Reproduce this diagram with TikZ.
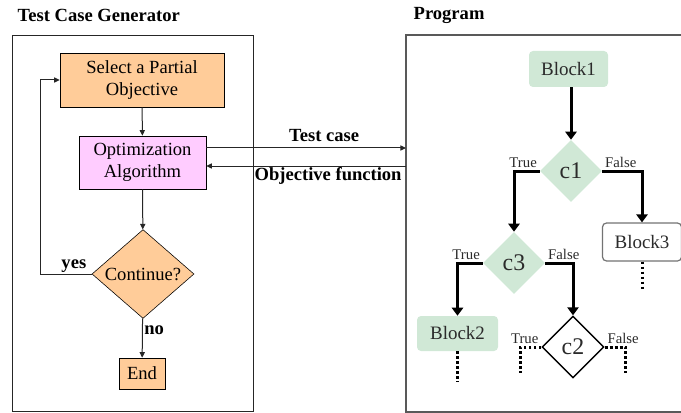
\documentclass[tikz,border=0pt]{standalone}
\usepackage{fontspec}
\setmainfont{Liberation Serif}
\usepackage{tikz}
\usetikzlibrary{positioning,shapes.geometric,arrows.meta}
\definecolor{objorange}{HTML}{FFCC99}
\definecolor{algpink}{HTML}{FFCCFF}
\definecolor{blockgreen}{HTML}{D0E8D6}
\definecolor{progtext}{HTML}{2B2B2B}

\begin{document}
\begin{tikzpicture}[x=0.25mm,y=-0.25mm,
    genbox/.style={draw,inner sep=0pt,align=center,font=\fontsize{13.2}{15.6}\selectfont},
    gendiamond/.style={draw,diamond,inner sep=0pt,fill=objorange,font=\fontsize{13.2}{15.6}\selectfont},
    boldlabel/.style={inner sep=1pt,font=\fontsize{13.2}{15.6}\selectfont\bfseries},
    thinflow/.style={draw=black!85,line width=0.25mm,-{Triangle[length=1.4mm,width=1.3mm]}},
    progblock/.style={rounded corners=1mm,inner sep=0pt,text=progtext,font=\fontsize{13.5}{16}\selectfont},
    progcond/.style={diamond,inner sep=0pt,minimum width=15.5mm,minimum height=15.5mm,text=progtext,font=\fontsize{17}{20}\selectfont},
    branch/.style={inner sep=1pt,text=progtext,font=\fontsize{10.5}{12}\selectfont},
    thickflow/.style={line width=0.75mm,-{Triangle[length=2mm,width=2.8mm]}},
    dotflow/.style={line width=0.75mm,dash pattern=on 0.7mm off 0.55mm}]
  \useasboundingbox (0,0) rectangle (681,413);
  \node[boldlabel,anchor=west] (gentitle) at (16,15) {Test Case Generator};
  \node[boldlabel,anchor=west] (progtitle) at (412,15) {Program};
  \draw[black!85,line width=0.25mm] (12,36) rectangle (253,411);
  \draw[black!65,line width=0.3mm] (681,35) -- (406,35) -- (406,412) -- (681,412);

  \node[genbox,fill=objorange,minimum width=41mm,minimum height=13.5mm] (select) at (142,80) {Select a Partial\\Objective};
  \node[genbox,fill=algpink,minimum width=31.75mm,minimum height=13.25mm] (opt) at (142.5,162.5) {Optimization\\Algorithm};
  \node[gendiamond,minimum width=25.5mm,minimum height=17.5mm] (cont) at (143,274) {Continue?};
  \node[genbox,fill=objorange,minimum width=11.5mm,minimum height=7.75mm] (fin) at (142,373.5) {End};

  \draw[thinflow] (select) -- (opt);
  \draw[thinflow] (opt) -- (cont);
  \draw[thinflow] (cont) -- node[boldlabel,right,pos=0.3] (nolab) {no} (fin);
  \draw[thinflow] (cont.west) -- node[boldlabel,above,pos=0.35] (yeslab) {yes} ++(-51,0) |- (select.west);

  \coordinate (tcin) at (406,148);
  \coordinate (ofout) at (406,166);
  \draw[thinflow] (opt.east |- tcin) -- node[boldlabel,above=1mm,pos=0.59] (tclab) {Test case} (tcin);
  \draw[thinflow] (ofout) -- node[boldlabel,below,pos=0.39] (oflab) {Objective function} (opt.east |- ofout);

  \node[progblock,fill=blockgreen,minimum width=19.75mm,minimum height=9mm] (block1) at (568.5,69) {Block1};
  \node[progcond,fill=blockgreen] (c1) at (571,171) {c1};
  \node[progcond,fill=blockgreen] (c3) at (514,263) {c3};
  \node[progblock,draw=black!55,line width=0.3mm,fill=white,minimum width=19.75mm,minimum height=9.5mm] (block3) at (642,242) {Block3};
  \node[progblock,fill=blockgreen,minimum width=20.25mm,minimum height=8.75mm] (block2) at (457.5,333.5) {Block2};
  \node[progcond,draw=black,line width=0.35mm,fill=white] (c2) at (573,347) {c2};

  \draw[thickflow] (c1 |- block1.south) -- (c1.north);
  \draw[thickflow] (c1.west) -| node[branch,pos=0,anchor=south east] (t1) {True} (c3.north);
  \draw[thickflow] (c1.east) -| node[branch,pos=0,anchor=south west] (f1) {False} (block3.north);
  \draw[thickflow] (c3.west) -| node[branch,pos=0,anchor=south east] (t3) {True} (block2.north);
  \draw[thickflow] (c3.east) -| node[branch,pos=0,anchor=south west] (f3) {False} (c2.north);
  \draw[dotflow] (c2.west) -- node[branch,pos=0,anchor=south east] (t2) {True} ++(-21,0) -- ++(0,26);
  \draw[dotflow] (c2.east) -- node[branch,pos=0,anchor=south west] (f2) {False} ++(21,0) -- ++(0,26);
  \draw[dotflow] (block3.south) -- ++(0,29);
  \draw[dotflow] (block2.south) -- ++(0,31);
\end{tikzpicture}
\end{document}
